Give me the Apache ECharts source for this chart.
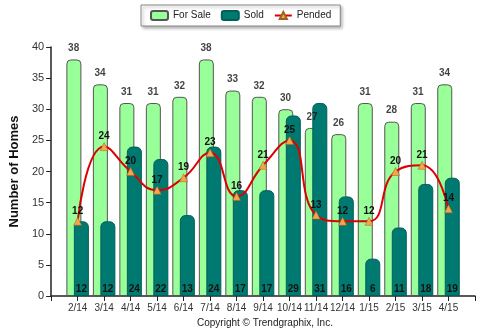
<!DOCTYPE html>
<html><head><meta charset="utf-8">
<script src="https://cdn.jsdelivr.net/npm/echarts@6/dist/echarts.min.js"></script>
<style>html,body{margin:0;padding:0;background:#fff}#c{width:481px;height:335px}</style>
</head><body><div id="c"></div>
<script>
const categories = ['2/14','3/14','4/14','5/14','6/14','7/14','8/14','9/14','10/14','11/14','12/14','1/15','2/15','3/15','4/15'];
const forSale = [38,34,31,31,32,38,33,32,30,27,26,31,28,31,34];
const sold = [12,12,24,22,13,24,17,17,29,31,16,6,11,18,19];
const pended = [12,24,20,17,19,23,16,21,25,13,12,12,20,21,14];
const yTicks = {min:0, max:40, interval:5};

const pad = a => [null].concat(a, [null]);
const cats = [''].concat(categories, ['']);
const chart = echarts.init(document.getElementById('c'));
const font = 'Arial, "Liberation Sans", sans-serif';
chart.setOption({
  animation:false,
  textStyle:{fontFamily:font},
  grid:{left:41, right:6, top:47, bottom:39},
  legend:{
    left:141, top:5,
    padding:[5,9,5,9], itemGap:10, itemWidth:17, itemHeight:9,
    backgroundColor:'#fff', borderColor:'#888', borderWidth:1,
    shadowColor:'rgba(0,0,0,0.3)', shadowBlur:3, shadowOffsetX:2, shadowOffsetY:2,
    textStyle:{fontSize:10, color:'#222', fontFamily:font},
    data:['For Sale','Sold','Pended']
  },
  xAxis:{
    type:'category', data:cats, boundaryGap:false,
    axisLine:{lineStyle:{color:'#222', width:1.5}},
    axisTick:{show:true, length:5, lineStyle:{color:'#222'}},
    axisLabel:{fontSize:10, color:'#333', interval:0, margin:7},
    splitLine:{show:false}
  },
  yAxis:{
    type:'value', min:yTicks.min, max:yTicks.max, interval:yTicks.interval,
    name:'Number of Homes', nameLocation:'middle', nameGap:27, nameRotate:90,
    nameTextStyle:{fontSize:13, fontWeight:'bold', color:'#111'},
    axisLine:{show:true, lineStyle:{color:'#222', width:1.5}},
    axisTick:{show:true, length:5, lineStyle:{color:'#222'}},
    axisLabel:{fontSize:11, color:'#333', margin:7},
    splitLine:{show:false}
  },
  series:[
    {name:'For Sale', type:'bar', data:pad(forSale), barWidth:15, barGap:'-50%',
     itemStyle:{color:'#99FF99', borderColor:'#555', borderWidth:1, borderRadius:[4,4,0,0]},
     z:2},
    {name:'Sold', type:'bar', data:pad(sold), barWidth:15,
     itemStyle:{color:'#007A70', borderColor:'#005f57', borderWidth:1, borderRadius:[5,5,0,0]},
     label:{show:true, position:'insideBottom', distance:2, fontSize:10, fontWeight:'bold', color:'#111'}, z:3},
    {name:'ForSaleLabels', type:'scatter', data:pad(forSale), symbolSize:0, silent:true,
     label:{show:true, position:'top', distance:6, offset:[-4,0], fontSize:10, fontWeight:'bold', color:'#111'}, z:4},
    {name:'Pended', type:'line', data:pad(pended), smooth:0.5, connectNulls:false,
     symbol:'triangle', symbolSize:8,
     lineStyle:{color:'#dd0000', width:2},
     itemStyle:{color:'#f5a64a', borderColor:'#a06020', borderWidth:0.5},
     label:{show:true, position:'top', distance:1, fontSize:10, fontWeight:'bold', color:'#111'}, z:5}
  ],
  graphic:[{type:'text', left:197, top:318, style:{text:'Copyright \u00A9 Trendgraphix, Inc.', fontSize:10, fill:'#222', fontFamily:font}}]
});
</script></body></html>
